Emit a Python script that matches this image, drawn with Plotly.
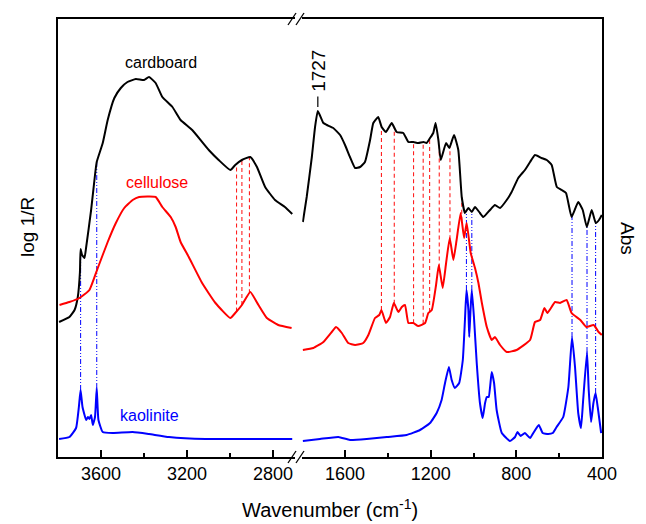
import numpy as np
import plotly.graph_objects as go

# ---------------- data (wavenumber cm-1, intensity a.u.) ----------------
card_left_wn = [3795, 3747, 3723, 3708, 3698, 3695, 3688, 3677, 3669, 3646, 3628, 3620, 3592, 3569, 3538,
                3508, 3477, 3438, 3400, 3377, 3346, 3315, 3268, 3230, 3176, 3099, 3053, 2999, 2976, 2945,
                2906, 2875, 2837, 2791, 2745, 2711]
card_left_y = [1.35, 1.40, 1.47, 1.60, 1.85, 2.08, 2.02, 1.99, 2.10, 2.47, 2.82, 2.95, 3.14, 3.37, 3.59,
               3.69, 3.75, 3.78, 3.77, 3.80, 3.74, 3.60, 3.50, 3.37, 3.27, 3.07, 2.97, 2.87, 2.92, 2.97,
               3.00, 2.90, 2.70, 2.57, 2.50, 2.43]

card_right_wn = [1797, 1779, 1755, 1740, 1727, 1701, 1685, 1655, 1623, 1600, 1577, 1553, 1530, 1507, 1483,
                 1468, 1445, 1429, 1409, 1382, 1359, 1328, 1304, 1281, 1258, 1234, 1219, 1203, 1188, 1177,
                 1164, 1153, 1128, 1113, 1091, 1071, 1055, 1040, 1024, 1008, 993, 970, 954, 923, 900,
                 876, 845, 822, 791, 760, 736, 713, 682, 658, 635, 611, 588, 568, 542, 511,
                 490, 471, 448, 429, 414, 401]
card_right_y = [2.35, 2.60, 3.00, 3.30, 3.46, 3.34, 3.32, 3.29, 3.22, 3.12, 3.00, 2.89, 2.90, 2.95, 3.17,
                3.34, 3.40, 3.30, 3.25, 3.34, 3.25, 3.24, 3.15, 3.15, 3.14, 3.15, 3.14, 3.19, 3.24, 3.34,
                3.17, 2.97, 3.14, 3.09, 3.22, 3.07, 2.60, 2.44, 2.49, 2.45, 2.50, 2.44, 2.40, 2.47, 2.52,
                2.49, 2.57, 2.65, 2.79, 2.87, 2.95, 3.02, 2.99, 2.97, 2.92, 2.70, 2.67, 2.64, 2.40, 2.55,
                2.47, 2.30, 2.47, 2.34, 2.37, 2.42]

cell_left_wn = [3793, 3747, 3700, 3654, 3615, 3569, 3531, 3492, 3453, 3423, 3346, 3315, 3276, 3253, 3230,
                3192, 3130, 3068, 2999, 2976, 2945, 2906, 2868, 2829, 2776, 2714]
cell_left_y = [1.52, 1.55, 1.59, 1.67, 1.89, 2.15, 2.34, 2.49, 2.57, 2.60, 2.60, 2.50, 2.40, 2.30, 2.15,
               2.00, 1.74, 1.54, 1.39, 1.44, 1.52, 1.65, 1.52, 1.39, 1.32, 1.29]

cell_right_wn = [1797, 1748, 1701, 1662, 1642, 1615, 1585, 1553, 1515, 1491, 1460, 1440, 1430, 1409, 1390,
                 1372, 1351, 1335, 1320, 1304, 1281, 1258, 1226, 1211, 1195, 1175, 1162, 1144, 1128, 1111,
                 1094, 1079, 1060, 1044, 1032, 1013, 993, 977, 961, 938, 915, 900, 876, 845, 799,
                 736, 713, 689, 669, 655, 619, 596, 565, 542, 501, 473, 439, 416, 401]
cell_right_y = [1.07, 1.09, 1.15, 1.25, 1.30, 1.24, 1.14, 1.12, 1.14, 1.22, 1.39, 1.42, 1.47, 1.34, 1.40,
                1.54, 1.45, 1.50, 1.52, 1.34, 1.34, 1.31, 1.34, 1.44, 1.47, 1.72, 1.92, 1.69, 1.94, 2.19,
                1.97, 2.17, 2.44, 2.19, 2.34, 2.04, 1.89, 1.74, 1.54, 1.30, 1.17, 1.20, 1.12, 1.05, 1.07,
                1.17, 1.35, 1.37, 1.49, 1.44, 1.55, 1.54, 1.57, 1.44, 1.37, 1.30, 1.32, 1.25, 1.22]

kao_left_wn = [3795, 3747, 3716, 3703, 3695, 3686, 3669, 3661, 3654, 3646, 3638, 3628, 3620, 3612, 3592,
               3546, 3453, 3377, 3284, 3114, 2883, 2711]
kao_left_y = [0.18, 0.20, 0.29, 0.50, 0.67, 0.50, 0.37, 0.40, 0.38, 0.42, 0.32, 0.40, 0.69, 0.37, 0.25,
              0.24, 0.25, 0.23, 0.20, 0.18, 0.18, 0.18]

kao_right_wn = [1797, 1717, 1631, 1577, 1499, 1405, 1312, 1250, 1203, 1172, 1149, 1133, 1115, 1102, 1087,
                1067, 1050, 1040, 1033, 1024, 1020, 1014, 1008, 998, 985, 970, 957, 946, 938, 929,
                915, 904, 892, 868, 830, 806, 795, 780, 760, 736, 721, 695, 677, 651, 630,
                612, 581, 557, 540, 526, 511, 498, 488, 470, 462, 451, 440, 430, 420, 404]
kao_right_y = [0.16, 0.18, 0.20, 0.17, 0.18, 0.20, 0.22, 0.27, 0.34, 0.44, 0.57, 0.74, 0.90, 0.77, 0.69,
               0.74, 0.97, 1.37, 1.67, 1.47, 1.20, 1.47, 1.67, 1.40, 0.94, 0.54, 0.39, 0.54, 0.60, 0.60,
               0.85, 0.74, 0.47, 0.24, 0.16, 0.20, 0.25, 0.21, 0.24, 0.19, 0.24, 0.32, 0.24, 0.23, 0.24,
               0.30, 0.40, 0.70, 1.20, 0.90, 0.44, 0.29, 0.57, 1.05, 0.67, 0.35, 0.54, 0.64, 0.50, 0.24]

# marker line positions
red_left = [2970, 2945, 2910]
red_right = [1430, 1370, 1280, 1235, 1205, 1160, 1110, 1055]
blue_left = [3695, 3620]
blue_right = [1033, 1008, 540, 470, 430]

left_range = [3800, 2700]
right_range = [1800, 400]
y_range = [0, 4.38]

# ---------------- figure ----------------
# page body adds an 8px offset, so the figure is drawn 8px smaller
OFF = 8
W, H = 646 - OFF, 524 - OFF
L, R, T, B = 58 - OFF, 44, 19 - OFF, 67
pw = W - L - R
ph = H - T - B
FONT = "Arial, Liberation Sans, sans-serif"


def interp(wn, xs, ys):
    return float(np.interp(-wn, -np.array(xs), np.array(ys)))


fig = go.Figure()


def vline(wn, lo, hi, color, dash, xa, ya, width=1.1):
    fig.add_trace(go.Scatter(x=[wn, wn], y=[lo, hi], mode="lines", xaxis=xa, yaxis=ya,
                             line=dict(color=color, width=width, dash=dash),
                             showlegend=False, hoverinfo="skip"))


for wn in red_left:
    vline(wn, interp(wn, cell_left_wn, cell_left_y), interp(wn, card_left_wn, card_left_y),
          "#ff2020", "4px,3px", "x", "y")
for wn in red_right:
    vline(wn, interp(wn, cell_right_wn, cell_right_y), interp(wn, card_right_wn, card_right_y),
          "#ff2020", "4px,3px", "x2", "y2")
for wn in blue_left:
    vline(wn, interp(wn, kao_left_wn, kao_left_y), interp(wn, card_left_wn, card_left_y),
          "#1a1aff", "5px,2px,1px,2px,1px,2px", "x", "y")
for wn in blue_right:
    vline(wn, interp(wn, kao_right_wn, kao_right_y), interp(wn, card_right_wn, card_right_y),
          "#1a1aff", "5px,2px,1px,2px,1px,2px", "x2", "y2")

series = [
    (card_left_wn, card_left_y, card_right_wn, card_right_y, "black"),
    (cell_left_wn, cell_left_y, cell_right_wn, cell_right_y, "#ff0000"),
    (kao_left_wn, kao_left_y, kao_right_wn, kao_right_y, "#0000ff"),
]
for lx, ly, rx, ry, c in series:
    fig.add_trace(go.Scatter(x=lx, y=ly, mode="lines", xaxis="x", yaxis="y",
                             line=dict(color=c, width=2, shape="spline", smoothing=0.4),
                             showlegend=False))
    fig.add_trace(go.Scatter(x=rx, y=ry, mode="lines", xaxis="x2", yaxis="y2",
                             line=dict(color=c, width=2, shape="spline", smoothing=0.4),
                             showlegend=False))


# page-pixel helpers (reference picture coordinates)
def px2paper_x(px):
    return (px - OFF - L) / pw


def py2paper_y(py):
    return (OFF + T + ph - py) / ph


x1_end = px2paper_x(294.6)
x2_start = px2paper_x(302.2)
axis_common = dict(showline=True, linecolor="black", linewidth=1.5, mirror=True,
                   ticks="inside", ticklen=7, tickwidth=1.5, tickcolor="black",
                   tick0=0, dtick=400, showgrid=False, zeroline=False,
                   tickfont=dict(family=FONT, size=18, color="black"),
                   minor=dict(ticks="inside", ticklen=4, tickwidth=1.5, tickcolor="black",
                              dtick=200, tick0=0, showgrid=False))
fig.update_layout(
    width=W, height=H,
    margin=dict(l=L, r=R, t=T, b=B, autoexpand=False),
    plot_bgcolor="white", paper_bgcolor="white",
    font=dict(family=FONT, color="black"),
    xaxis=dict(domain=[0, x1_end], range=left_range, anchor="y", **axis_common),
    xaxis2=dict(domain=[x2_start, 1], range=right_range, anchor="y2", **axis_common),
    yaxis=dict(domain=[0, 1], range=y_range, anchor="x", showline=True, linecolor="black",
               linewidth=1.5, showticklabels=False, ticks="", showgrid=False, zeroline=False),
    yaxis2=dict(domain=[0, 1], range=y_range, anchor="x2", side="right", showline=True,
                linecolor="black", linewidth=1.5, showticklabels=False, ticks="",
                showgrid=False, zeroline=False),
)

# axis break marks
for cy in (19, 457):
    for cx in (292, 300):
        fig.add_shape(type="line", xref="paper", yref="paper",
                      x0=px2paper_x(cx - 4), y0=py2paper_y(cy + 6),
                      x1=px2paper_x(cx + 4), y1=py2paper_y(cy - 6),
                      line=dict(color="black", width=1.3))

# labels
fig.add_annotation(x=3323, y=3.95, xref="x", yref="y", text="cardboard", showarrow=False,
                   font=dict(size=16, color="black", family=FONT))
fig.add_annotation(x=3341, y=2.75, xref="x", yref="y", text="cellulose", showarrow=False,
                   font=dict(size=16, color="#ff0000", family=FONT))
fig.add_annotation(x=3373, y=0.42, xref="x", yref="y", text="kaolinite", showarrow=False,
                   font=dict(size=16, color="#0000ff", family=FONT))
fig.add_annotation(x=1727, y=3.50, xref="x2", yref="y2", text="1727", textangle=-90,
                   showarrow=True, arrowhead=0, arrowwidth=1.2, arrowcolor="black",
                   ax=0, ay=-36, borderpad=4,
                   font=dict(size=19, color="black", family=FONT))

fig.add_annotation(x=px2paper_x(330), y=py2paper_y(508), xref="paper", yref="paper",
                   xanchor="center", yanchor="middle",
                   text="Wavenumber (cm<sup>-1</sup>)", showarrow=False,
                   font=dict(size=20, family=FONT, color="black"))
fig.add_annotation(x=px2paper_x(27), y=py2paper_y(227), xref="paper", yref="paper",
                   xanchor="center", yanchor="middle",
                   text="log 1/R", textangle=-90, showarrow=False,
                   font=dict(size=19, family=FONT, color="black"))
fig.add_annotation(x=px2paper_x(628), y=py2paper_y(238), xref="paper", yref="paper",
                   xanchor="center", yanchor="middle",
                   text="Abs", textangle=90, showarrow=False,
                   font=dict(size=19, family=FONT, color="black"))

fig.write_html("out.html")
